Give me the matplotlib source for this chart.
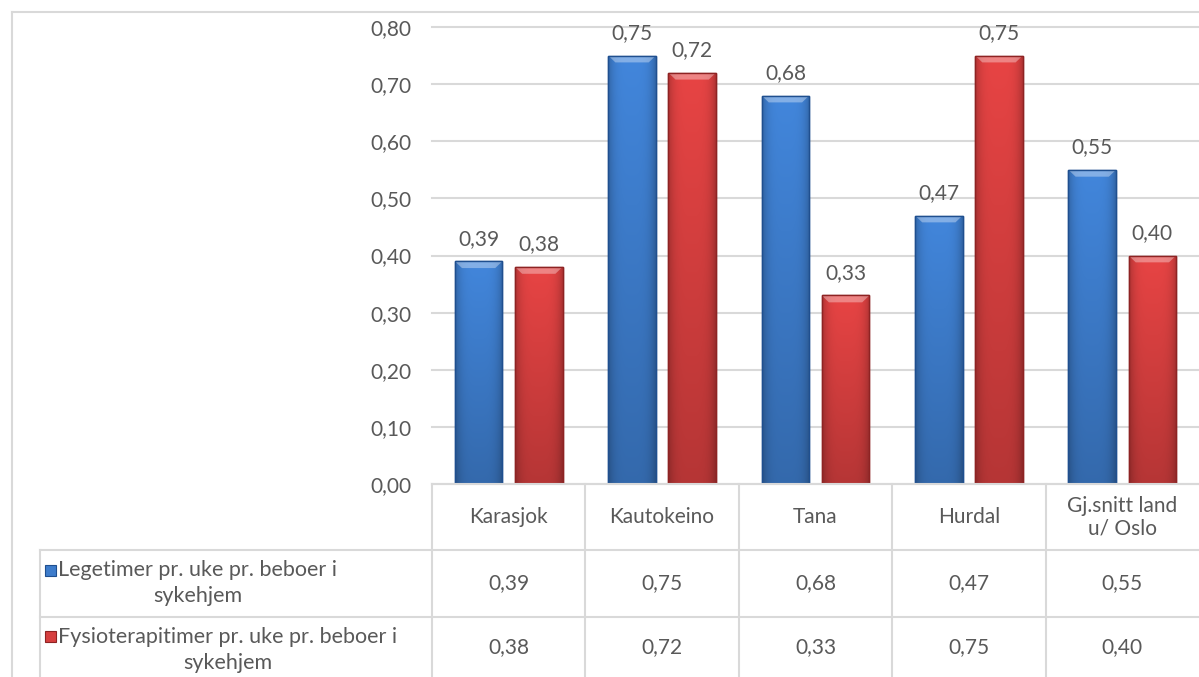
import matplotlib.pyplot as plt
from matplotlib.patches import Rectangle, Polygon
from matplotlib.colors import to_rgb
import numpy as np

plt.rcParams['font.family'] = ['Lato', 'DejaVu Sans']

# data
categories = ['Karasjok', 'Kautokeino', 'Tana', 'Hurdal', 'Gj.snitt land\nu/ Oslo']
series_names = [['Legetimer pr. uke pr. beboer i', 'sykehjem'],
                ['Fysioterapitimer pr. uke pr. beboer i', 'sykehjem']]
lege = [0.39, 0.75, 0.68, 0.47, 0.55]
fysio = [0.38, 0.72, 0.33, 0.75, 0.40]
yticks = [0.0, 0.1, 0.2, 0.3, 0.4, 0.5, 0.6, 0.7, 0.8]

blue, blue_edge = '#3d7ccb', '#1f4f8f'
red, red_edge = '#d63f3f', '#8e2323'
txt = '#595959'
grid = '#d9d9d9'
FS = 15

W, H = 1199, 677
fig = plt.figure(figsize=(W / 100, H / 100), dpi=100)

def fx(px):
    return px / W

def fy(py):
    return 1 - py / H

def fmt(v):
    return f'{v:.2f}'.replace('.', ',')

x0, x1 = 432, 1199
y_top, y_bot = 27, 484
ax = fig.add_axes([fx(x0), fy(y_bot), fx(x1) - fx(x0), fy(y_top) - fy(y_bot)])
ax.set_xlim(-0.5, len(categories) - 0.5)
ax.set_ylim(0, 0.8)
for s in ax.spines.values():
    s.set_visible(False)
ax.set_xticks([])
ax.set_yticks(yticks)
ax.set_yticklabels([fmt(v) for v in yticks], fontsize=FS, color=txt)
ax.tick_params(axis='y', length=0, pad=15)
for v in yticks:
    ax.axhline(v, color=grid, lw=1.5, zorder=0, clip_on=False)

x = np.arange(len(categories))
bw, off = 0.31, 0.196

def shade(color):
    base = np.array(to_rgb(color))
    ny, nx = 64, 32
    vy = np.linspace(1.08, 0.85, ny)[:, None]
    hx = np.linspace(-1, 1, nx)[None, :]
    hf = 1 - 0.22 * np.abs(hx) ** 4
    f = vy * hf
    return np.clip(base[None, None, :] * f[:, :, None], 0, 1)

def bevel_bars(xs, vals, face, edge):
    bars = ax.bar(xs, vals, bw, color=face, edgecolor=edge, linewidth=1.0, zorder=3)
    img = shade(face)
    for b in bars:
        bx, by, w, h = b.get_x(), b.get_y(), b.get_width(), b.get_height()
        im = ax.imshow(img, extent=[bx, bx + w, by, by + h], aspect='auto', zorder=3.5,
                       interpolation='bilinear')
        im.set_clip_path(b)
        dh = 0.012
        ax.add_patch(Polygon([[bx, by + h], [bx + w, by + h], [bx + w * 0.85, by + h - dh],
                              [bx + w * 0.15, by + h - dh]], closed=True, color='white',
                             alpha=0.35, lw=0, zorder=4))
        ax.add_patch(Rectangle((bx, by), w, h, fill=False, edgecolor=edge, lw=1.0, zorder=5))
    ax.set_xlim(-0.5, len(categories) - 0.5)
    ax.set_ylim(0, 0.8)
    for xi, v in zip(xs, vals):
        ax.text(xi, v + 0.022, fmt(v), ha='center', va='bottom', fontsize=FS, color=txt)

bevel_bars(x - off, lege, blue, blue_edge)
bevel_bars(x + off, fysio, red, red_edge)

# outer chart border
fig.add_artist(plt.Line2D([fx(12), fx(12)], [fy(12), 0], color=grid, lw=1.5))
fig.add_artist(plt.Line2D([fx(12), 1], [fy(12), fy(12)], color=grid, lw=1.5))

# data table
col_edges = np.linspace(x0, x1, len(categories) + 1)
row_y = [484, 550, 617, 677]
lw = 1.5
for cx in col_edges[:-1]:
    fig.add_artist(plt.Line2D([fx(cx), fx(cx)], [fy(row_y[0]), fy(row_y[-1])], color=grid, lw=lw))
fig.add_artist(plt.Line2D([fx(40), fx(40)], [fy(row_y[1]), fy(row_y[-1])], color=grid, lw=lw))
fig.add_artist(plt.Line2D([fx(x0), 1], [fy(row_y[0]), fy(row_y[0])], color=grid, lw=lw))
for ry in row_y[1:3]:
    fig.add_artist(plt.Line2D([fx(40), 1], [fy(ry), fy(ry)], color=grid, lw=lw))

centers = (col_edges[:-1] + col_edges[1:]) / 2
for cx, cat in zip(centers, categories):
    fig.text(fx(cx), fy((row_y[0] + row_y[1]) / 2), cat, ha='center', va='center',
             fontsize=FS, color=txt, linespacing=1.15)

fig.canvas.draw()
renderer = fig.canvas.get_renderer()
rows = [(series_names[0], lege, blue, blue_edge, 0), (series_names[1], fysio, red, red_edge, 3)]
for i, (name, vals, face, edge, dy) in enumerate(rows):
    yc = (row_y[i + 1] + row_y[i + 2]) / 2
    t1 = fig.text(fx(58), fy(yc - 13 + dy), name[0], ha='left', va='center',
                  fontsize=15.5, color=txt)
    bb = t1.get_window_extent(renderer)
    fig.text((bb.x0 + bb.x1) / 2 / W, fy(yc + 13 + dy), name[1], ha='center', va='center',
             fontsize=15.5, color=txt)
    fig.add_artist(Rectangle((fx(45), fy(yc - 13 + dy) - 5 / H), 11 / W, 11 / H,
                             transform=fig.transFigure, facecolor=face, edgecolor=edge, lw=0.8))
    for cx, v in zip(centers, vals):
        fig.text(fx(cx), fy(yc), fmt(v), ha='center', va='center', fontsize=FS, color=txt)

fig.savefig('out.png', dpi=100)
